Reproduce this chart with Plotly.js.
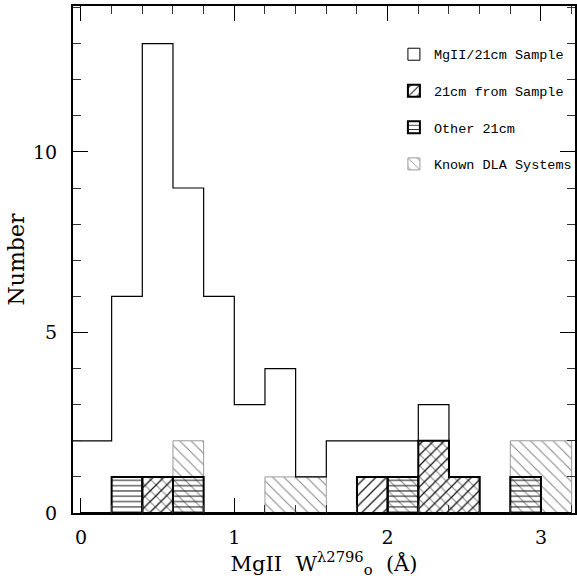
<!DOCTYPE html>
<html><head><meta charset="utf-8">
<script src="https://cdn.plot.ly/plotly-3.0.1.min.js"></script>
<style>html,body{margin:0;padding:0;background:#fff}</style>
</head><body>
<div id="chart" style="width:577px;height:583px"></div>
<script>
// ---- data (histogram bins of width 0.2 in W_o(2796), Angstrom) ----
const binCenters = [0.1,0.3,0.5,0.7,0.9,1.1,1.3,1.5,1.7,1.9,2.1,2.3,2.5,2.7,2.9,3.1];
const mg2Sample    = [2,6,13,9,6,3,4,1,2,2,2,3,1,0,0,0];
const fromSample21 = [0,0,1,0,0,0,0,0,0,1,0,2,1,0,0,0];
const other21      = [0,1,0,1,0,0,0,0,0,0,1,0,0,0,1,0];
const knownDLA     = [0,0,1,2,0,0,1,1,0,0,1,2,1,0,2,2];
const seriesNames = ["MgII/21cm Sample","21cm from Sample","Other 21cm","Known DLA Systems"];
const xTickVals = [0,1,2,3];
const yTickVals = [0,5,10];

// ---- styling / construction ----
const binWidth = 0.2;
const xRange = [-0.052, 3.222];
const yRange = [0, 14.04];
const nz = a => a.map(v => v === 0 ? null : v);

// step outline (histogram outline without inner dividers)
function makeStep(vals, startX){
  const xs = [], ys = [];
  binCenters.forEach((c,i)=>{
    xs.push(i===0 && startX!==undefined ? startX : c-binWidth/2); ys.push(vals[i]);
  });
  xs.push(binCenters[binCenters.length-1]+binWidth/2); ys.push(0);
  if(startX===undefined){ xs.unshift(binCenters[0]-binWidth/2); ys.unshift(0); }
  return {x:xs, y:ys};
}
const mainStep = makeStep(mg2Sample, xRange[0]);
const dlaStep = makeStep(knownDLA);
const otherStep = makeStep(other21);
const fromStep = makeStep(fromSample21);

const clear = 'rgba(0,0,0,0)';
const dlaGray = '#9a9a9a';
const line = (s, color, width) => ({type:'scatter', mode:'lines', x:s.x, y:s.y,
  line:{shape:'hv', color:color, width:width}, showlegend:false, hoverinfo:'skip'});
const dlaPattern = {shape:'\\', fgcolor:'#8a8a8a', bgcolor:clear, size:8, solidity:0.14};
const otherPattern = {shape:'-', fgcolor:'#222', bgcolor:clear, size:5.3, solidity:0.2};
const fromPattern = {shape:'/', fgcolor:'#111', bgcolor:clear, size:7.5, solidity:0.16};

const traces = [
  { type:'bar', x:binCenters, y:nz(knownDLA), width:binWidth, showlegend:false,
    marker:{color:clear, line:{width:0}, pattern:dlaPattern} },
  line(dlaStep, dlaGray, 1),
  { type:'bar', x:binCenters, y:nz(other21), width:binWidth, showlegend:false,
    marker:{color:clear, line:{width:0}, pattern:otherPattern} },
  { type:'bar', x:binCenters, y:nz(fromSample21), width:binWidth, showlegend:false,
    marker:{color:clear, line:{width:0}, pattern:fromPattern} },
  line(otherStep, '#000', 2),
  line(fromStep, '#000', 2),
  line(mainStep, '#000', 1.2),
  // legend keys
  { type:'bar', x:[null], y:[null], name:seriesNames[0], legendgroup:'a', legendrank:1,
    marker:{color:'#fff', line:{color:'#000', width:1}} },
  { type:'bar', x:[null], y:[null], name:seriesNames[1], legendgroup:'b', legendrank:2,
    marker:{color:clear, line:{color:'#000', width:2}, pattern:fromPattern} },
  { type:'bar', x:[null], y:[null], name:seriesNames[2], legendgroup:'c', legendrank:3,
    marker:{color:clear, line:{color:'#000', width:2}, pattern:otherPattern} },
  { type:'bar', x:[null], y:[null], name:seriesNames[3], legendgroup:'d', legendrank:4,
    marker:{color:clear, line:{color:dlaGray, width:1}, pattern:dlaPattern} }
];

const tickFont = {family:'DejaVu Serif, Liberation Serif, serif', size:19, color:'#000'};
const layout = {
  width:577, height:583,
  margin:{l:73, r:1, t:6, b:70},
  paper_bgcolor:'#fff', plot_bgcolor:'#fff',
  barmode:'overlay', bargap:0,
  showlegend:true,
  legend:{x:0.638, y:0.935, xanchor:'left', yanchor:'top', bgcolor:clear,
    font:{family:'Liberation Mono, monospace', size:13.5, color:'#000'},
    tracegroupgap:16, itemwidth:30},
  xaxis:{range:xRange, tickvals:xTickVals, ticktext:xTickVals.map(String),
    ticks:'inside', ticklen:15, tickwidth:1, tickcolor:'#000',
    minor:{dtick:0.2, tick0:0, ticks:'inside', ticklen:8, tickwidth:1, tickcolor:'#333'},
    showline:true, linewidth:2, linecolor:'#000', mirror:'allticks',
    showgrid:false, zeroline:false, tickfont:tickFont, ticklabelstandoff:6,
    title:{text:'MgII  W<sup>λ2796</sup><sub>o</sub>  (Å)', standoff:6,
      font:{family:'DejaVu Serif, Liberation Serif, serif', size:21, color:'#000'}}},
  yaxis:{range:yRange, tickvals:yTickVals, ticktext:yTickVals.map(String),
    ticks:'inside', ticklen:15, tickwidth:1, tickcolor:'#000',
    minor:{dtick:1, tick0:0, ticks:'inside', ticklen:8, tickwidth:1, tickcolor:'#333'},
    showline:true, linewidth:2, linecolor:'#000', mirror:'allticks',
    showgrid:false, zeroline:false, tickfont:tickFont, ticklabelstandoff:10,
    automargin:true,
    title:{text:'Number', standoff:2,
      font:{family:'DejaVu Serif, Liberation Serif, serif', size:22, color:'#000'}}}
};
Plotly.newPlot('chart', traces, layout, {staticPlot:true, displayModeBar:false});
</script>
</body></html>
